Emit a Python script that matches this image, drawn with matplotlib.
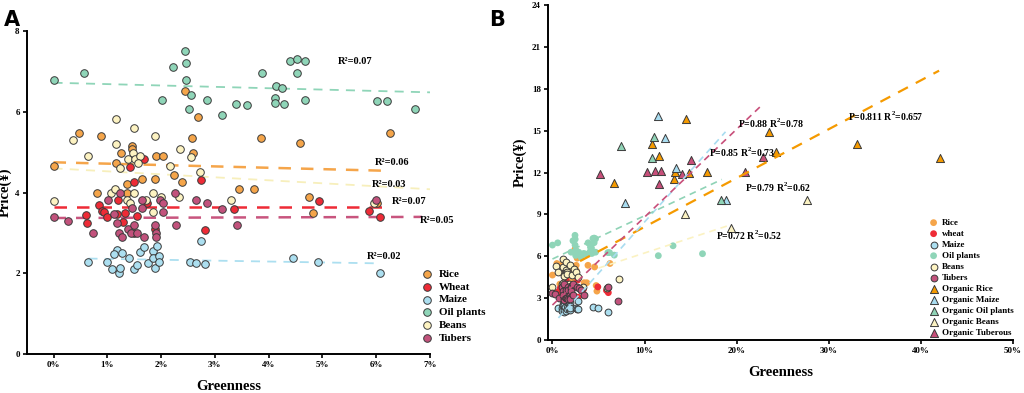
import numpy as np
import matplotlib
matplotlib.use('Agg')
import matplotlib.pyplot as plt
from matplotlib.ticker import FuncFormatter

plt.rcParams['font.family'] = ['Liberation Serif', 'DejaVu Serif']
plt.rcParams['font.weight'] = 'bold'
plt.rcParams['mathtext.fontset'] = 'custom'
plt.rcParams['mathtext.rm'] = 'Liberation Serif:bold'
plt.rcParams['mathtext.bf'] = 'Liberation Serif:bold'

# --- dane: uprawy konwencjonalne (zielonosc w %, cena w Y) ---
rice_x = [0, 0.48, 0.89, 1.46, 1.46, 1.25, 1.17, 1.36, 1.36, 0.80, 1.65, 1.90, 2.03, 1.89,
          2.24, 2.39, 2.45, 2.68, 2.58, 2.60, 3.44, 3.73, 3.86, 4.58, 4.75, 4.83, 6.02, 6.25]
rice_y = [4.65, 5.48, 5.40, 5.16, 5.08, 4.99, 4.74, 4.22, 4.00, 4.00, 4.33, 4.90, 4.90, 4.34,
          4.43, 4.27, 6.51, 5.86, 5.35, 4.97, 4.10, 4.10, 5.35, 5.23, 3.90, 3.50, 3.73, 5.48]

wheat_x = [1.68, 1.43, 1.49, 2.75, 0.84, 1.19, 0.90, 0.94, 1.00, 1.18, 1.33, 1.55, 1.29,
           0.61, 0.63, 1.74, 1.88, 2.81, 3.35, 4.93, 5.87, 6.07, 1.49]
wheat_y = [4.84, 4.64, 4.27, 4.30, 3.70, 3.81, 3.55, 3.51, 3.40, 3.48, 3.49, 3.42, 3.28,
           3.44, 3.24, 3.73, 3.09, 3.07, 3.60, 3.80, 3.55, 3.39, 2.99]

maize_x = [0.65, 0.99, 1.09, 1.18, 1.12, 1.21, 1.23, 1.27, 1.41, 1.49, 1.55, 1.60, 1.68, 1.76,
           1.84, 1.84, 1.88, 1.93, 1.96, 1.96, 2.53, 2.65, 2.81, 2.75, 4.45, 4.91, 6.07]
maize_y = [2.27, 2.27, 2.10, 2.58, 2.48, 2.00, 2.14, 2.50, 2.37, 2.10, 2.21, 2.54, 2.66, 2.25,
           2.56, 2.39, 2.14, 2.68, 2.42, 2.27, 2.29, 2.25, 2.24, 2.79, 2.37, 2.29, 2.00]

oil_x = [0, 0.57, 2.45, 2.47, 2.23, 2.46, 2.02, 2.56, 2.52, 2.86, 3.13, 3.39, 3.59, 3.87,
         4.40, 4.53, 4.68, 4.53, 4.13, 4.24, 4.11, 4.11, 4.29, 4.68, 6.02, 6.20, 6.72]
oil_y = [6.80, 6.96, 7.50, 7.22, 7.11, 6.80, 6.29, 6.42, 6.06, 6.29, 5.91, 6.20, 6.16, 6.96,
         7.27, 7.30, 7.25, 6.97, 6.65, 6.59, 6.35, 6.22, 6.20, 6.29, 6.26, 6.26, 6.08]

beans_x = [0, 0.37, 0.65, 1.17, 1.17, 1.50, 1.48, 1.38, 1.52, 1.61, 1.24, 1.57, 1.88, 2.17, 2.36,
           2.55, 2.73, 1.07, 1.15, 1.49, 1.84, 1.36, 1.42, 1.72, 2.00, 2.33, 1.85, 3.29, 5.95]
beans_y = [3.80, 5.29, 4.90, 5.81, 5.20, 5.60, 4.99, 4.82, 4.83, 4.90, 4.60, 4.72, 5.40, 4.66, 5.08,
           4.88, 4.50, 3.99, 4.08, 4.00, 4.00, 3.81, 3.73, 3.81, 3.90, 3.90, 3.51, 3.81, 3.75]

tubers_x = [0, 0.26, 0.74, 1.02, 1.24, 1.12, 1.18, 1.21, 1.27, 1.38, 1.49, 1.44, 1.55, 1.68, 1.45,
            1.64, 1.64, 1.88, 1.91, 1.91, 1.98, 2.03, 2.04, 2.25, 2.27, 2.64, 2.86, 3.13, 3.41, 5.99]
tubers_y = [3.39, 3.30, 3.01, 3.81, 4.00, 3.48, 3.24, 2.99, 2.89, 3.09, 3.20, 2.99, 2.99, 2.91, 3.61,
            3.81, 3.61, 3.20, 2.99, 2.91, 3.81, 3.75, 3.51, 4.00, 3.20, 3.81, 3.75, 3.60, 3.20, 3.81]

# punkty widoczne tylko na panelu B (poza zakresem 0-7%)
oil_extra_x = [11.5, 13.1, 16.3]
oil_extra_y = [6.04, 6.75, 6.18]
beans_extra_x = [7.2]
beans_extra_y = [4.4]
tubers_extra_x = [7.1]
tubers_extra_y = [2.8]

# --- uprawy ekologiczne (panel B) ---
org_rice_x = [6.69, 10.77, 11.6, 14.53, 13.16, 13.27, 14.82, 16.74, 23.5, 24.3, 33.04, 42.05]
org_rice_y = [11.24, 14.03, 13.2, 15.84, 11.52, 12.02, 12.0, 12.02, 14.93, 13.5, 14.03, 13.02]
org_maize_x = [11.42, 12.22, 13.4, 7.85, 18.87]
org_maize_y = [16.08, 14.5, 12.3, 9.83, 10.04]
org_oil_x = [7.41, 11.06, 10.77, 18.26]
org_oil_y = [13.93, 14.53, 13.05, 10.04]
org_beans_x = [14.39, 19.38, 27.66]
org_beans_y = [9.04, 8.02, 10.04]
org_tub_x = [5.13, 10.23, 11.14, 11.82, 11.57, 14.03, 15.0, 20.97, 22.85]
org_tub_y = [11.93, 12.02, 12.14, 12.14, 11.19, 11.93, 12.9, 12.02, 13.14]

# linie trendu: (wyraz wolny, nachylenie, x od, x do)
fit_a = {
    'Oil plants': (6.72, -0.034, 0, 7),
    'Rice': (4.75, -0.034, 0, 6.25),
    'Beans': (4.60, -0.074, 0, 7),
    'Wheat': (3.65, 0.0, 0, 6.2),
    'Tubers': (3.37, 0.004, 0, 6.85),
    'Maize': (2.38, -0.022, 0.65, 6.0),
}
r2_a_labels = ['R²=0.07', 'R²=0.06', 'R²=0.03', 'R²=0.07', 'R²=0.05', 'R²=0.02']
r2_a_x = [5.60, 6.29, 6.24, 6.62, 7.13, 6.15]
r2_a_y = [7.25, 4.75, 4.21, 3.77, 3.31, 2.41]

fit_b = {
    'Organic Rice': (4.6, 0.35, 3, 42),
    'Organic Maize': (1.1, 0.735, 0.65, 18.8),
    'Organic Oil plants': (5.8, 0.31, 0, 18.4),
    'Organic Beans': (4.07, 0.216, 5, 19.3),
    'Organic Tuberous': (2.5, 0.63, 0, 22.6),
}
r2_b_labels = [r'P=0.811 R$^\mathbf{2}$=0.657', r'P=0.88 R$^\mathbf{2}$=0.78',
               r'P=0.85 R$^\mathbf{2}$=0.73', r'P=0.79 R$^\mathbf{2}$=0.62',
               r'P=0.72 R$^\mathbf{2}$=0.52']
r2_b_x = [36.2, 23.8, 20.6, 24.5, 21.3]
r2_b_y = [16.0, 15.5, 13.45, 10.9, 7.5]

colors = {
    'Rice': '#f5a54a', 'Wheat': '#ee2b36', 'Maize': '#acdff0', 'Oil plants': '#8fd5b8',
    'Beans': '#fdf3c2', 'Tubers': '#c2527c',
    'Organic Rice': '#f59a00', 'Organic Maize': '#a8dcf0', 'Organic Oil plants': '#8fd3b6',
    'Organic Beans': '#fbf2c2', 'Organic Tuberous': '#c84f7a',
}
line_colors_a = {
    'Oil plants': '#8fd5b8', 'Rice': '#f5a54a', 'Beans': '#f7efbc',
    'Wheat': '#ee2b36', 'Tubers': '#c8557e', 'Maize': '#acdff0',
}

fig = plt.figure(figsize=(10.24, 3.93), dpi=100)
axA = fig.add_axes([0.026, 0.099, 0.394, 0.822])
axB = fig.add_axes([0.535, 0.135, 0.454, 0.852])

for ax in (axA, axB):
    ax.spines['top'].set_visible(False)
    ax.spines['right'].set_visible(False)
    ax.spines['left'].set_linewidth(1.4)
    ax.spines['bottom'].set_linewidth(1.4)
    ax.tick_params(width=1.2, length=3, labelsize=6.5, pad=2)
    ax.xaxis.set_major_formatter(FuncFormatter(lambda v, p: f'{v:.0f}%'))

# ---------------- panel A ----------------
conv = [('Rice', rice_x, rice_y), ('Wheat', wheat_x, wheat_y), ('Maize', maize_x, maize_y),
        ('Oil plants', oil_x, oil_y), ('Beans', beans_x, beans_y), ('Tubers', tubers_x, tubers_y)]

for name, (b0, b1, x0, x1) in fit_a.items():
    xs = np.array([x0, x1])
    lw = 1.8 if name in ('Wheat', 'Tubers', 'Rice') else 1.3
    axA.plot(xs, b0 + b1 * xs, ls=(0, (5, 4)), color=line_colors_a[name], lw=lw, zorder=1)

for name, xs, ys in conv:
    axA.scatter(xs, ys, s=30, color=colors[name], edgecolor='#3a3a3a', linewidth=0.7,
                label=name, zorder=3)

for t, x, y in zip(r2_a_labels, r2_a_x, r2_a_y):
    axA.text(x, y, t, ha='center', va='center', fontsize=7.5, fontweight='bold')

axA.set_xlim(-0.5, 7)
axA.set_ylim(0, 8)
axA.set_xticks(range(0, 8))
axA.set_yticks([0, 2, 4, 6, 8])
axA.set_xlabel('Greenness', fontsize=10.5, fontweight='bold', labelpad=8)
axA.set_ylabel('Price(¥)', fontsize=10.5, fontweight='bold')
axA.yaxis.set_label_coords(-0.036, 0.5)
axA.legend(loc='upper left', bbox_to_anchor=(0.405, 0.33), bbox_transform=fig.transFigure,
           frameon=False, prop={'size': 8, 'weight': 'bold'}, handletextpad=0.5,
           labelspacing=0.28, borderpad=0, handlelength=1.2)

# ---------------- panel B ----------------
b_conv = [('Rice', 'Rice', rice_x, rice_y, False),
          ('wheat', 'Wheat', wheat_x, wheat_y, False),
          ('Maize', 'Maize', maize_x, maize_y, True),
          ('Oil plants', 'Oil plants', oil_x + oil_extra_x, oil_y + oil_extra_y, False),
          ('Beans', 'Beans', beans_x + beans_extra_x, beans_y + beans_extra_y, True),
          ('Tubers', 'Tubers', tubers_x + tubers_extra_x, tubers_y + tubers_extra_y, True)]
for label, key, xs, ys, edged in b_conv:
    axB.scatter(xs, ys, s=24, color=colors[key], edgecolor='#3a3a3a' if edged else 'none',
                linewidth=0.7, label=label, zorder=3)

org = [('Organic Rice', org_rice_x, org_rice_y), ('Organic Maize', org_maize_x, org_maize_y),
       ('Organic Oil plants', org_oil_x, org_oil_y), ('Organic Beans', org_beans_x, org_beans_y),
       ('Organic Tuberous', org_tub_x, org_tub_y)]
for name, xs, ys in org:
    axB.scatter(xs, ys, s=34, marker='^', color=colors[name], edgecolor='#3a3a3a',
                linewidth=0.7, label=name, zorder=3)

for name, (b0, b1, x0, x1) in fit_b.items():
    xs = np.array([x0, x1])
    lw = 1.6 if name == 'Organic Rice' else 1.2
    dash = (0, (5, 4)) if name == 'Organic Rice' else (0, (4, 3))
    axB.plot(xs, b0 + b1 * xs, ls=dash, color=colors[name], lw=lw, zorder=4)

for t, x, y in zip(r2_b_labels, r2_b_x, r2_b_y):
    axB.text(x, y, t, ha='center', va='center', fontsize=7, fontweight='bold', zorder=5)

axB.set_xlim(-0.5, 50)
axB.set_ylim(0, 24)
axB.set_xticks(range(0, 51, 10))
axB.set_yticks(range(0, 25, 3))
axB.set_xlabel('Greenness', fontsize=10.5, fontweight='bold', labelpad=8)
axB.set_ylabel('Price(¥)', fontsize=10.5, fontweight='bold', labelpad=3)
axB.yaxis.set_label_coords(-0.045, 0.53)
axB.legend(loc='upper left', bbox_to_anchor=(0.902, 0.455), bbox_transform=fig.transFigure,
           frameon=False, prop={'size': 6.5, 'weight': 'bold'}, handletextpad=0.3,
           labelspacing=0.3, borderpad=0, handlelength=1.2)

fig.text(0.004, 0.975, 'A', fontsize=15, fontweight='bold', family='DejaVu Sans', va='top')
fig.text(0.478, 0.975, 'B', fontsize=15, fontweight='bold', family='DejaVu Sans', va='top')

fig.savefig('out.png', dpi=100)
